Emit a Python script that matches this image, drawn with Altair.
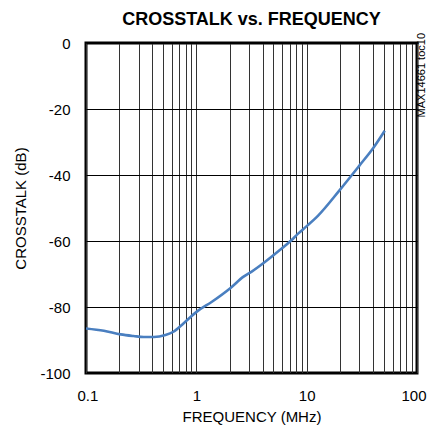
import altair as alt
import pandas as pd

# Curve
freq_mhz = [0.1, 0.145, 0.206, 0.27, 0.334, 0.412, 0.525, 0.62, 0.768, 1.01, 1.385,
            2.03, 2.68, 3.2, 4.21, 5.5, 7.31, 8.41, 10.0, 12.7, 20.0, 30.3, 40.0, 51.0]
crosstalk_db = [-86.5, -87.2, -88.3, -88.8, -89.1, -89.1, -88.5, -87.5, -84.9, -81.4, -78.4,
                -74.3, -70.8, -69.2, -66.3, -63.2, -59.7, -57.7, -55.5, -52.3, -44.5,
                -37.0, -31.9, -26.6]

# Axis grid / tick values
x_grid_values = [0.1, 0.2, 0.3, 0.4, 0.5, 0.6, 0.7, 0.8, 0.9,
                 1, 2, 3, 4, 5, 6, 7, 8, 9,
                 10, 20, 30, 40, 50, 60, 70, 80, 90, 100]
x_label_values = ["0.1", "1", "10", "100"]
y_tick_values = [-100, -80, -60, -40, -20, 0]

df = pd.DataFrame({"f": freq_mhz, "db": crosstalk_db})

FONT = "Liberation Sans"

label_list = "[" + ",".join("'%s'" % v for v in x_label_values) + "]"

line = alt.Chart(df).mark_line(color="#4a7fc0", strokeWidth=2.6, interpolate="monotone").encode(
    x=alt.X("f:Q",
            scale=alt.Scale(type="log", domain=[0.1, 100], nice=False),
            axis=alt.Axis(values=x_grid_values, format="~g",
                          labelExpr="indexof(" + label_list + ", datum.label) >= 0 ? datum.label : ''",
                          title="FREQUENCY (MHz)", grid=True, gridColor="#333333",
                          gridWidth=1, gridOpacity=1, ticks=False, domain=False,
                          labelFlush=True, labelFlushOffset=9, labelOverlap=False,
                          labelPadding=15, titlePadding=6, labelFontSize=15,
                          titleFontSize=15, labelFont=FONT, titleFont=FONT,
                          labelColor="black", titleColor="black", titleFontWeight="normal")),
    y=alt.Y("db:Q",
            scale=alt.Scale(domain=[-100, 0], nice=False),
            axis=alt.Axis(values=y_tick_values,
                          labelExpr="datum.value == 0 ? '0' : '-' + abs(datum.value)",
                          title="CROSSTALK (dB)", grid=True, gridColor="black",
                          gridWidth=1, gridOpacity=1, ticks=False, domain=False,
                          labelFlush=False,
                          labelPadding=16, titlePadding=11, labelFontSize=15,
                          titleFontSize=15, labelFont=FONT, titleFont=FONT,
                          labelColor="black", titleColor="black", titleFontWeight="normal")),
)

note = alt.Chart(pd.DataFrame({"t": ["MAX14661 toc10"]})).mark_text(
    angle=270, align="right", baseline="middle", fontSize=11, font=FONT, color="black"
).encode(x=alt.value(336), y=alt.value(-10), text="t:N")

chart = alt.layer(line, note).properties(
    width=331, height=330,
    title=alt.TitleParams("CROSSTALK vs. FREQUENCY", font=FONT, fontSize=18,
                          fontWeight="bold", color="black", anchor="middle", offset=4),
    autosize="none",
    padding={"left": 78, "top": 35, "right": 10, "bottom": 52},
).configure_view(stroke="black", strokeWidth=3)

chart.save("out.html", embed_options={"renderer": "svg", "actions": False})
